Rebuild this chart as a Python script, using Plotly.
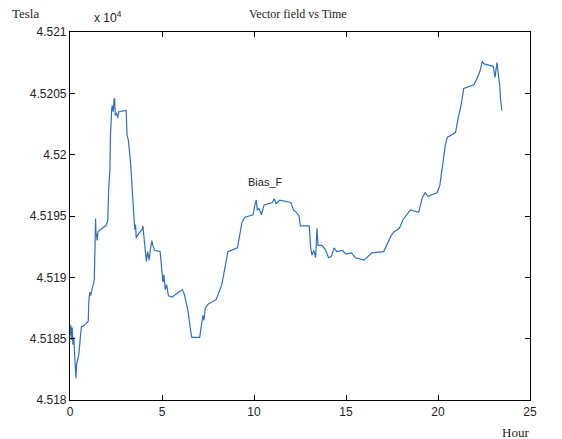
import plotly.graph_objects as go

hours = [0.00, 0.05, 0.08, 0.12, 0.16, 0.20, 0.24, 0.28, 0.32, 0.36, 0.42, 0.48, 0.55, 0.62, 0.70, 0.99,
         1.03, 1.08, 1.12, 1.20, 1.28, 1.32, 1.36, 1.39, 1.41, 1.44, 1.47, 1.52, 1.65, 1.95,
         2.05, 2.10, 2.17, 2.20, 2.23, 2.27, 2.30, 2.35, 2.40, 2.43, 2.46, 2.52, 2.60, 2.65,
         3.05, 3.10, 3.17, 3.22, 3.30, 3.40, 3.48, 3.52, 3.56, 3.60, 3.70, 3.92, 3.96,
         4.05, 4.10, 4.15, 4.22, 4.30, 4.38, 4.45, 4.50, 4.60, 4.90,
         5.00, 5.05, 5.10, 5.18, 5.25, 5.35, 5.55, 5.95, 6.10, 6.22, 6.35, 6.42, 6.55, 6.62,
         7.05, 7.15, 7.22, 7.28, 7.35, 7.50, 7.95, 8.10, 8.25, 8.40, 8.48, 8.58,
         9.10, 9.18, 9.28, 9.35, 9.50, 9.95, 10.05, 10.12, 10.18, 10.28, 10.40, 10.55,
         11.00, 11.10, 11.20, 11.40, 12.00, 12.15, 12.30, 12.45, 12.52,
         13.00, 13.08, 13.15, 13.25, 13.35, 13.42, 13.48, 13.70, 13.90,
         14.05, 14.20, 14.35, 14.50, 14.80, 15.00, 15.30, 15.50, 16.00, 16.20, 16.40,
         17.05, 17.25, 17.45, 17.60, 17.90, 18.10, 18.30, 18.50, 18.95,
         19.15, 19.30, 19.45, 19.95, 20.10, 20.20, 20.30, 20.40, 20.50, 20.95,
         21.10, 21.25, 21.40, 21.95, 22.15, 22.30, 22.40, 22.50,
         23.00, 23.10, 23.20, 23.28, 23.35, 23.40, 23.47]

field = [45185.3, 45186.1, 45184.9, 45185.9, 45184.5, 45185.1, 45184.1, 45182.4, 45181.8, 45182.9, 45183.4, 45183.7, 45184.9, 45186.0, 45186.0, 45186.4,
         45188.2, 45188.8, 45188.5, 45189.1, 45189.5, 45189.8, 45192.5, 45194.8, 45193.6, 45193.5, 45193.0, 45193.7, 45193.9, 45194.2,
         45194.6, 45197.1, 45198.8, 45201.6, 45203.5, 45203.8, 45204.0, 45203.5, 45204.6, 45204.5, 45203.2, 45203.4, 45203.0, 45203.5,
         45203.6, 45201.6, 45201.2, 45200.4, 45199.2, 45196.7, 45194.5, 45193.9, 45194.3, 45193.2, 45193.5, 45193.9, 45194.2,
         45192.6, 45191.6, 45191.3, 45192.1, 45191.4, 45192.4, 45193.0, 45192.6, 45192.2, 45192.1,
         45190.6, 45189.6, 45190.2, 45189.0, 45189.4, 45188.5, 45188.4, 45188.8, 45189.0, 45188.6, 45187.7, 45187.2, 45185.7, 45185.1,
         45185.1, 45186.1, 45186.9, 45186.5, 45187.5, 45187.8, 45188.2, 45188.8, 45189.4, 45190.6, 45191.3, 45192.1,
         45192.4, 45193.0, 45193.7, 45194.5, 45194.9, 45195.1, 45195.9, 45196.3, 45195.5, 45195.6, 45195.1, 45195.9,
         45196.1, 45196.4, 45196.0, 45196.3, 45196.1, 45195.5, 45195.3, 45195.0, 45194.2,
         45194.2, 45192.4, 45191.8, 45192.2, 45191.6, 45194.0, 45192.6, 45192.6, 45192.2,
         45191.6, 45191.7, 45192.4, 45192.1, 45192.2, 45191.9, 45192.0, 45191.6, 45191.4, 45191.7, 45192.0,
         45192.1, 45192.7, 45193.4, 45193.7, 45194.0, 45194.7, 45195.1, 45195.5, 45195.3,
         45196.5, 45196.9, 45196.6, 45196.9, 45197.5, 45198.6, 45199.7, 45200.8, 45201.4, 45201.8,
         45203.0, 45204.0, 45205.4, 45205.7, 45206.3, 45206.9, 45207.6, 45207.4,
         45207.2, 45206.3, 45207.5, 45206.5, 45205.7, 45204.5, 45203.6]

x_ticks = [0, 5, 10, 15, 20, 25]
y_ticks = [45180, 45185, 45190, 45195, 45200, 45205, 45210]
y_tick_labels = ["4.518", "4.5185", "4.519", "4.5195", "4.52", "4.5205", "4.521"]

W, H = 562, 439
ML, MR, MT, MB = 70, 32, 32, 39
pw, ph = W - ML - MR, H - MT - MB
def px(xp): return (xp - ML) / pw
def py(yp): return (H - MB - yp) / ph

fig = go.Figure()
fig.add_trace(go.Scatter(x=hours, y=field, mode="lines",
                         line=dict(color="#2e6fc6", width=1.2), showlegend=False))

axis_common = dict(showgrid=False, zeroline=False, showline=True, linecolor="black", linewidth=1.2,
                   mirror="allticks", ticks="inside", ticklen=5, tickcolor="black",
                   tickfont=dict(family="Liberation Sans, Arial", size=12, color="#222"))

fig.update_xaxes(range=[0, 25], tickvals=x_ticks, **axis_common)
fig.update_yaxes(range=[45180, 45210], tickvals=y_ticks, ticktext=y_tick_labels, **axis_common)

serif = "Liberation Serif, Times New Roman, serif"
sans = "Liberation Sans, Arial"
def lab(text, xp, yp, family, size):
    return dict(text=text, x=px(xp), y=py(yp), xref="paper", yref="paper", showarrow=False,
                xanchor="center", yanchor="middle", font=dict(family=family, size=size, color="#222"))

fig.update_layout(
    width=W, height=H,
    margin=dict(l=ML, r=MR, t=MT, b=MB),
    paper_bgcolor="white", plot_bgcolor="white",
    annotations=[
        lab("Vector field vs Time", 298, 14, serif, 12),
        lab("Tesla", 25, 14, serif, 13),
        lab("x 10<sup>4</sup>", 108, 17, sans, 12),
        lab("Hour", 515, 432, serif, 13),
        dict(text="Bias_F", x=10.6, y=45197.8, xref="x", yref="y", showarrow=False,
             xanchor="center", yanchor="middle", font=dict(family=sans, size=11, color="#222")),
    ],
)

fig.write_html("out.html")
